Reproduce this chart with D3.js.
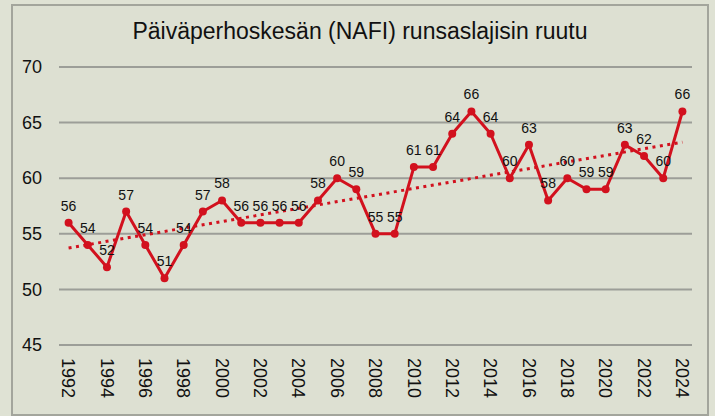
<!DOCTYPE html>
<html>
<head>
<meta charset="utf-8">
<script src="https://cdn.jsdelivr.net/npm/d3@7"></script>
<style>
  body { margin: 0; background: #dfe2d4; }
  svg { display: block; font-family: "Liberation Sans", Arial, sans-serif; }
</style>
</head>
<body>
<svg id="chart" width="715" height="416"></svg>
<script>
const title = "Päiväperhoskesän (NAFI) runsaslajisin ruutu"
const years = d3.range(1992, 2025)
const values = [56, 54, 52, 57, 54, 51, 54, 57, 58, 56, 56, 56, 56, 58, 60, 59, 55, 55,
  61, 61, 64, 66, 64, 60, 63, 58, 60, 59, 59, 63, 62, 60, 66]
const yTicks = [45, 50, 55, 60, 65, 70]
const xLabels = years.filter(y => y % 2 === 0)

const svg = d3.select("#chart")
const red = "#d2111e"

svg.append("rect")
  .attr("x", 12).attr("y", 5)
  .attr("width", 696).attr("height", 410)
  .attr("fill", "#dde0d2")
  .attr("stroke", "#a3a59c")
  .attr("stroke-width", 2)

svg.append("text")
  .attr("x", 360).attr("y", 39)
  .attr("text-anchor", "middle")
  .attr("font-size", 23)
  .attr("fill", "#111")
  .text(title)

const x = d3.scaleBand().domain(years).range([59, 692])
const cx = d => x(d) + x.bandwidth() / 2
const y = d3.scaleLinear().domain([45, 70]).range([345, 67])

// grid lines
svg.append("g").selectAll("line")
  .data(yTicks).join("line")
  .attr("x1", 59).attr("x2", 692)
  .attr("y1", d => y(d)).attr("y2", d => y(d))
  .attr("stroke", "#9c9e98")
  .attr("stroke-width", 2)

// y axis labels
const yAxis = svg.append("g")
  .attr("transform", "translate(52,0)")
  .call(d3.axisLeft(y).tickValues(yTicks).tickSize(0).tickPadding(10))
yAxis.select(".domain").remove()
yAxis.selectAll("text")
  .attr("font-size", 18)
  .attr("font-family", "Liberation Sans, Arial, sans-serif")
  .attr("fill", "#111")

// x labels, rotated
const xAxis = svg.append("g")
  .attr("transform", "translate(0,356)")
  .call(d3.axisBottom(x).tickValues(xLabels).tickSize(0).tickPadding(0))
xAxis.select(".domain").remove()
xAxis.selectAll("text")
  .attr("font-size", 18)
  .attr("font-family", "Liberation Sans, Arial, sans-serif")
  .attr("fill", "#111")
  .attr("transform", "rotate(90)")
  .attr("text-anchor", "start")
  .attr("x", 2)
  .attr("y", 0)
  .attr("dy", "0.35em")

// linear trend
const n = years.length
const mx = d3.mean(years), my = d3.mean(values)
const slope = d3.sum(years, (v, i) => (v - mx) * (values[i] - my)) /
  d3.sum(years, v => (v - mx) * (v - mx))
const icpt = my - slope * mx
svg.append("line")
  .attr("x1", cx(years[0])).attr("y1", y(icpt + slope * years[0]))
  .attr("x2", cx(years[n - 1])).attr("y2", y(icpt + slope * years[n - 1]))
  .attr("stroke", red)
  .attr("stroke-width", 3)
  .attr("stroke-dasharray", "3,4.5")

// data line
const line = d3.line().x((d, i) => cx(years[i])).y(d => y(d))
svg.append("path")
  .datum(values)
  .attr("d", line)
  .attr("fill", "none")
  .attr("stroke", red)
  .attr("stroke-width", 3)
  .attr("stroke-linejoin", "round")

svg.append("g").selectAll("circle")
  .data(values).join("circle")
  .attr("cx", (d, i) => cx(years[i]))
  .attr("cy", d => y(d))
  .attr("r", 4)
  .attr("fill", red)

svg.append("g").selectAll("text")
  .data(values).join("text")
  .attr("x", (d, i) => cx(years[i]))
  .attr("y", d => y(d) - 12)
  .attr("text-anchor", "middle")
  .attr("font-size", 14)
  .attr("fill", "#111")
  .text(d => d)
</script>
</body>
</html>
